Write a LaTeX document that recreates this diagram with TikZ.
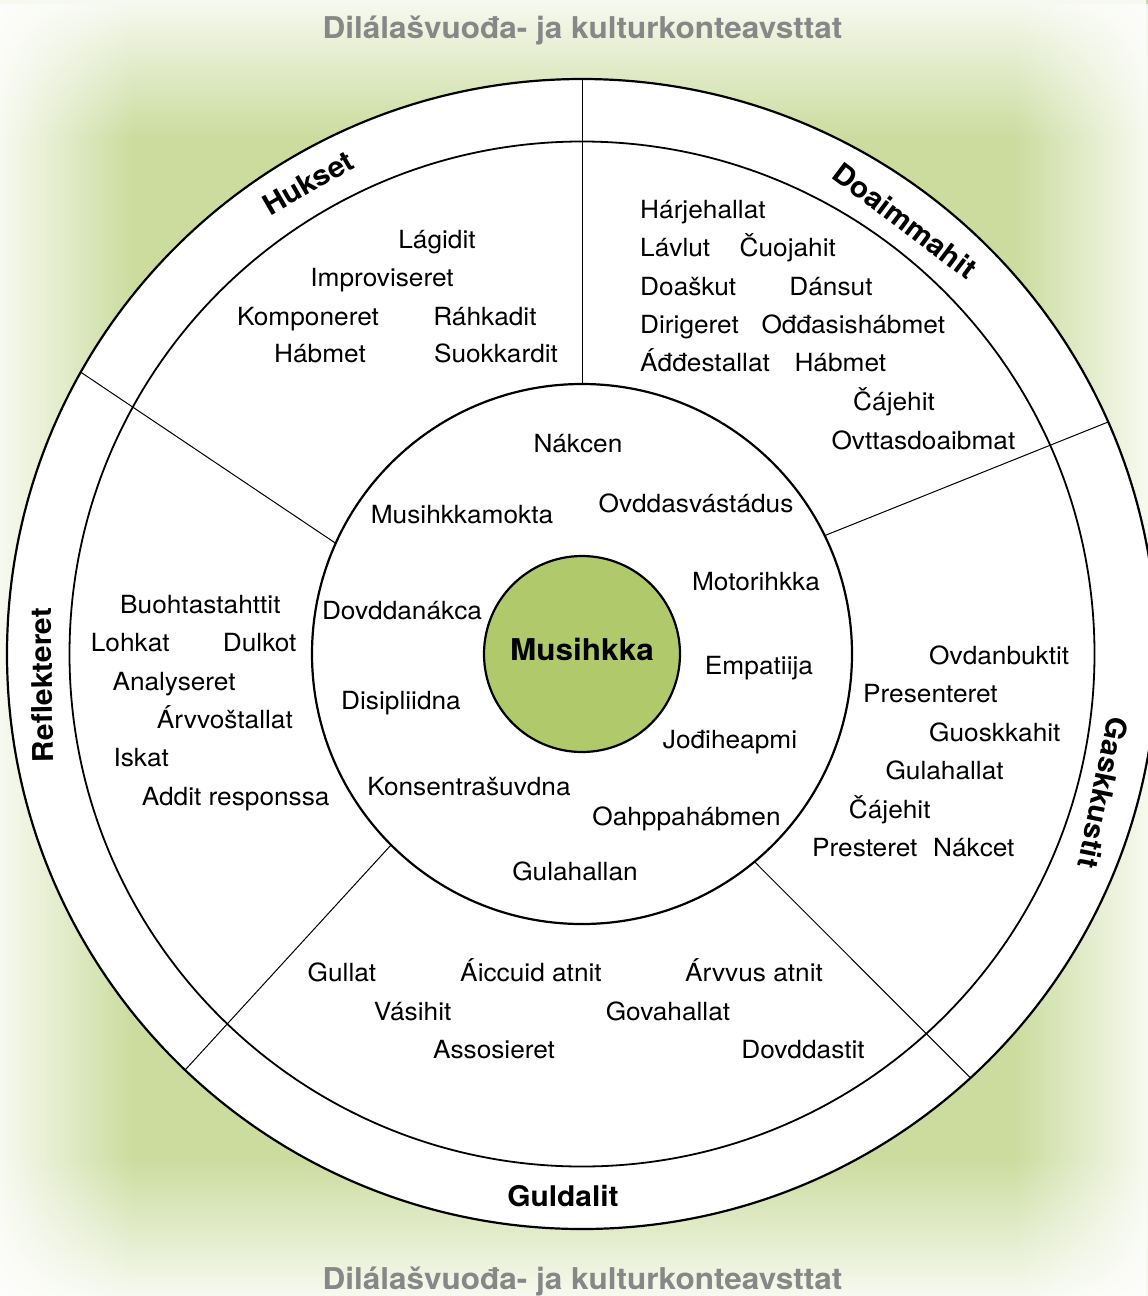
\documentclass[tikz,border=0pt]{standalone}
\usepackage{fontspec}
\setmainfont{TeX Gyre Heros}[FakeStretch=1.05]
\usetikzlibrary{fadings}
\definecolor{bggreen}{RGB}{203,220,158}
\definecolor{coregreen}{RGB}{176,201,106}
\definecolor{titlegray}{RGB}{135,135,135}
\tikzfading[name=fadetop, top color=transparent!0, bottom color=transparent!100]
\tikzfading[name=fadebottom, top color=transparent!100, bottom color=transparent!0]
\tikzfading[name=fadeleft, left color=transparent!0, right color=transparent!100]
\tikzfading[name=faderight, left color=transparent!100, right color=transparent!0]
\begin{document}
\begin{tikzpicture}[x=1pt,y=-1pt,
  lbl/.style={font=\fontsize{25}{30}\selectfont, inner sep=0pt, anchor=base},
  lbll/.style={lbl, anchor=base west},
  ring/.style={font=\bfseries\fontsize{28.5}{34}\selectfont, inner sep=0pt},
  ttl/.style={font=\bfseries\fontsize{30}{36}\selectfont, text=titlegray, inner sep=0pt, anchor=base},
  divider/.style={line width=1pt},
  circ/.style={line width=2.2pt}]
\useasboundingbox (0,0) rectangle (1148,1296);
\clip (0,0) rectangle (1148,1296);
% background
\fill[bggreen] (0,0) rectangle (1148,1296);
\fill[white, fill opacity=0.85, path fading=fadetop] (0,0) rectangle (1148,140);
\fill[white, fill opacity=0.85, path fading=fadebottom] (0,1156) rectangle (1148,1296);
\fill[white, fill opacity=0.85, path fading=fadeleft] (0,0) rectangle (135,1296);
\fill[white, fill opacity=0.85, path fading=faderight] (1013,0) rectangle (1148,1296);
% titles
\node[ttl] (ttop) at (582.5,38.5) {Dilálašvuođa- ja kulturkonteavsttat};
\node[ttl] (tbot) at (582.5,1289) {Dilálašvuođa- ja kulturkonteavsttat};
% wheel
\coordinate (C) at (582,654);
\fill[white] (C) circle[radius=575];
\coordinate (d1o) at (582,79);     \coordinate (d1i) at (582,384);
\coordinate (d2o) at (80.8,372.2); \coordinate (d2i) at (335.7,543.3);
\coordinate (d3o) at (1108.1,422); \coordinate (d3i) at (824.7,535.6);
\coordinate (d4o) at (185.1,1070); \coordinate (d4i) at (391.1,844.9);
\coordinate (d5o) at (970.5,1077.9); \coordinate (d5i) at (754.5,861.7);
\draw[divider] (d1o) -- (d1i);
\draw[divider] (d2o) -- (d2i);
\draw[divider] (d3o) -- (d3i);
\draw[divider] (d4o) -- (d4i);
\draw[divider] (d5o) -- (d5i);
\draw[circ] (C) circle[radius=575];
\draw[line width=1.8pt] (C) circle[radius=512.5];
\filldraw[circ, fill=white] (C) circle[radius=270];
\filldraw[circ, fill=coregreen] (C) circle[radius=98];
\node[font=\bfseries\fontsize{30}{36}\selectfont, inner sep=0pt, anchor=base] (core) at (582,660.7) {Musihkka};
% ring labels
\node[ring, rotate=30] (hukset) at (308,183) {Hukset};
\node[ring, rotate=-37] (doaim) at (905,221) {Doaimmahit};
\node[ring, rotate=-101.5] (gask) at (1103,793) {Gaskkustit};
\node[ring, rotate=91] (refl) at (42,685) {Reflekteret};
\node[ring, anchor=base] (guld) at (563,1206) {Guldalit};
% inner circle
\node[lbl] (i1) at (578,452.3) {Nákcen};
\node[lbl] (i2) at (462,523.5) {Musihkkamokta};
\node[lbl] (i3) at (696,512.5) {Ovddasvástádus};
\node[lbl] (i4) at (756,590.5) {Motorihkka};
\node[lbl] (i5) at (402,619.5) {Dovddanákca};
\node[lbl] (i6) at (759,674.5) {Empatiija};
\node[lbl] (i7) at (401,709.5) {Disipliidna};
\node[lbl] (i8) at (730,748.5) {Jođiheapmi};
\node[lbl] (i9) at (469,795) {Konsentrašuvdna};
\node[lbl] (i10) at (686.5,825) {Oahppahábmen};
\node[lbl] (i11) at (575,880) {Gulahallan};
% Hukset
\node[lbl] (h1) at (437,248.3) {Lágidit};
\node[lbl] (h2) at (382,286.7) {Improviseret};
\node[lbl] (h3) at (308,325) {Komponeret};
\node[lbl] (h4) at (485,325) {Ráhkadit};
\node[lbl] (h5) at (320,362.7) {Hábmet};
\node[lbl] (h6) at (496,362.7) {Suokkardit};
% Doaimmahit
\node[lbll] (a1) at (640,218.3) {Hárjehallat};
\node[lbll] (a2) at (640,256.7) {Lávlut};
\node[lbll] (a3) at (739.4,256.7) {Čuojahit};
\node[lbll] (a4) at (640,295) {Doaškut};
\node[lbll] (a5) at (789.2,295) {Dánsut};
\node[lbll] (a6) at (640,333.3) {Dirigeret};
\node[lbll] (a7) at (761.3,333.3) {Ođđasishábmet};
\node[lbll] (a8) at (640,371.5) {Áđđestallat};
\node[lbll] (a9) at (794.3,371.5) {Hábmet};
\node[lbll] (a10) at (853,410.5) {Čájehit};
\node[lbll] (a11) at (831.3,449) {Ovttasdoaibmat};
% Gaskkustit
\node[lbll] (g1) at (929,664) {Ovdanbuktit};
\node[lbll] (g2) at (863,702.6) {Presenteret};
\node[lbll] (g3) at (929,741) {Guoskkahit};
\node[lbll] (g4) at (885.3,779.8) {Gulahallat};
\node[lbll] (g5) at (848.7,818.4) {Čájehit};
\node[lbll] (g6) at (812,856) {Presteret};
\node[lbll] (g7) at (933,856) {Nákcet};
% Guldalit
\node[lbl] (l1) at (342,981) {Gullat};
\node[lbl] (l2) at (531,981) {Áiccuid atnit};
\node[lbl] (l3) at (754,981) {Árvvus atnit};
\node[lbl] (l4) at (412.6,1020) {Vásihit};
\node[lbl] (l5) at (668,1020) {Govahallat};
\node[lbl] (l6) at (494,1058.3) {Assosieret};
\node[lbl] (l7) at (803,1058.3) {Dovddastit};
% Reflekteret
\node[lbll] (r1) at (120,613.3) {Buohtastahttit};
\node[lbll] (r2) at (90.7,651.7) {Lohkat};
\node[lbll] (r3) at (222.7,651.7) {Dulkot};
\node[lbll] (r4) at (112.3,690) {Analyseret};
\node[lbll] (r5) at (156.7,728.3) {Árvvoštallat};
\node[lbll] (r6) at (113.3,766.7) {Iskat};
\node[lbll] (r7) at (141.7,805) {Addit responssa};
\end{tikzpicture}
\end{document}
